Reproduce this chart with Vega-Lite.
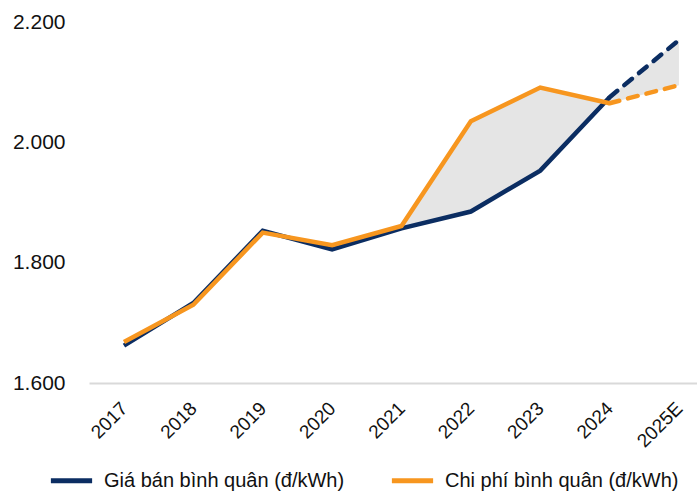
{
  "$schema": "https://vega.github.io/schema/vega-lite/v6.json",
  "width": 608,
  "height": 361,
  "autosize": {"type": "none"},
  "padding": {"left": 89, "top": 22, "right": 0, "bottom": 108},
  "background": "white",
  "config": {
    "font": "Liberation Sans",
    "view": {"stroke": null}
  },
  "datasets": {
    "long": [
      {"year": "2017", "series": "Giá bán bình quân (đ/kWh)", "value": 1662},
      {"year": "2018", "series": "Giá bán bình quân (đ/kWh)", "value": 1733},
      {"year": "2019", "series": "Giá bán bình quân (đ/kWh)", "value": 1853},
      {"year": "2020", "series": "Giá bán bình quân (đ/kWh)", "value": 1822},
      {"year": "2021", "series": "Giá bán bình quân (đ/kWh)", "value": 1857},
      {"year": "2022", "series": "Giá bán bình quân (đ/kWh)", "value": 1885},
      {"year": "2023", "series": "Giá bán bình quân (đ/kWh)", "value": 1953},
      {"year": "2024", "series": "Giá bán bình quân (đ/kWh)", "value": 2075},
      {"year": "2025E", "series": "Giá bán bình quân (đ/kWh)", "value": 2170},
      {"year": "2017", "series": "Chi phí bình quân (đ/kWh)", "value": 1668},
      {"year": "2018", "series": "Chi phí bình quân (đ/kWh)", "value": 1730},
      {"year": "2019", "series": "Chi phí bình quân (đ/kWh)", "value": 1850},
      {"year": "2020", "series": "Chi phí bình quân (đ/kWh)", "value": 1829},
      {"year": "2021", "series": "Chi phí bình quân (đ/kWh)", "value": 1861},
      {"year": "2022", "series": "Chi phí bình quân (đ/kWh)", "value": 2035},
      {"year": "2023", "series": "Chi phí bình quân (đ/kWh)", "value": 2091},
      {"year": "2024", "series": "Chi phí bình quân (đ/kWh)", "value": 2065},
      {"year": "2025E", "series": "Chi phí bình quân (đ/kWh)", "value": 2095}
    ],
    "wide": [
      {"year": "2021", "gia": 1857, "chi": 1861},
      {"year": "2022", "gia": 1885, "chi": 2035},
      {"year": "2023", "gia": 1953, "chi": 2091},
      {"year": "2024", "gia": 2075, "chi": 2065},
      {"year": "2025E", "gia": 2170, "chi": 2095}
    ]
  },
  "encoding": {
    "x": {
      "field": "year",
      "type": "ordinal",
      "sort": ["2017","2018","2019","2020","2021","2022","2023","2024","2025E"],
      "scale": {"type": "point", "padding": 0.382, "align": 0.66},
      "axis": {
        "title": null,
        "labelAngle": -45,
        "labelAlign": "right",
        "labelBaseline": "middle",
        "labelFontSize": 19,
        "labelColor": "#111111",
        "labelPadding": 22,
        "ticks": false,
        "domainColor": "#d9d9d9",
        "domainWidth": 2,
        "grid": false
      }
    }
  },
  "layer": [
    {
      "data": {"name": "wide"},
      "mark": {"type": "area", "color": "#e0e0e0", "opacity": 0.85},
      "encoding": {
        "y": {"field": "gia", "type": "quantitative"},
        "y2": {"field": "chi"}
      }
    },
    {
      "data": {"name": "long"},
      "transform": [{"filter": "datum.year != '2025E'"}],
      "mark": {"type": "line", "strokeWidth": 4.5, "strokeJoin": "miter"},
      "encoding": {
        "y": {
          "field": "value",
          "type": "quantitative",
          "scale": {"domain": [1600, 2200], "zero": false, "nice": false},
          "axis": {
            "title": null,
            "values": [1600, 1800, 2000, 2200],
            "labelExpr": "replace(format(datum.value, ','), ',', '.')",
            "labelFontSize": 21,
            "labelColor": "#111111",
            "labelPadding": 24,
            "ticks": false,
            "domain": false,
            "grid": false
          }
        },
        "color": {
          "field": "series",
          "type": "nominal",
          "sort": ["Giá bán bình quân (đ/kWh)", "Chi phí bình quân (đ/kWh)"],
          "scale": {
            "domain": ["Giá bán bình quân (đ/kWh)", "Chi phí bình quân (đ/kWh)"],
            "range": ["#0b2d62", "#f7961f"]
          },
          "legend": {
            "title": null,
            "orient": "none",
            "legendX": -41,
            "legendY": 435,
            "direction": "horizontal",
            "symbolType": "stroke",
            "symbolStrokeWidth": 5,
            "symbolSize": 1700,
            "labelFontSize": 20,
            "labelColor": "#111111",
            "labelLimit": 400,
            "labelOffset": 9,
            "columnPadding": 36
          }
        }
      }
    },
    {
      "data": {"name": "long"},
      "transform": [{"filter": "datum.year == '2024' || datum.year == '2025E'"}],
      "mark": {"type": "line", "strokeWidth": 4.5, "strokeDash": [10, 9], "strokeCap": "round"},
      "encoding": {
        "y": {"field": "value", "type": "quantitative"},
        "color": {"field": "series", "type": "nominal"}
      }
    }
  ]
}
